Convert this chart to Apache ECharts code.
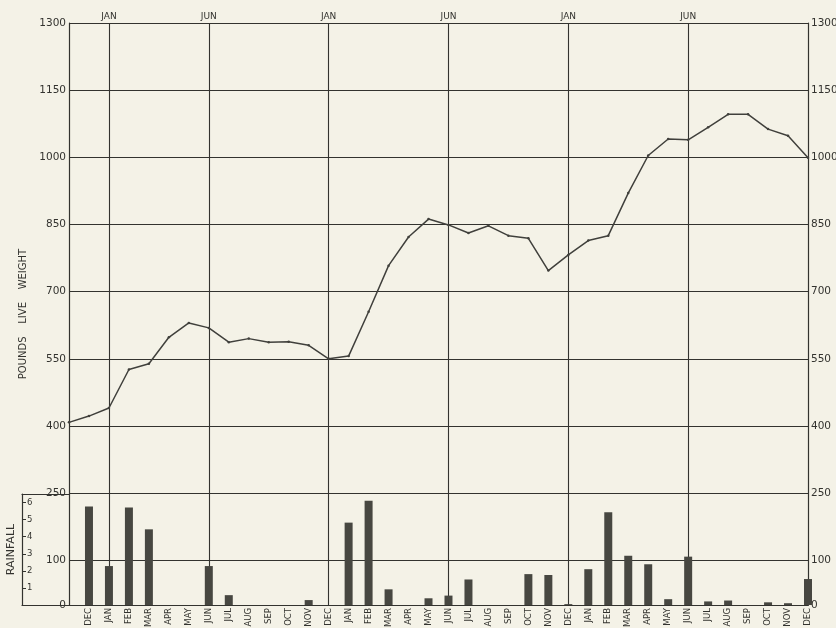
<!DOCTYPE html>
<html>
<head>
<meta charset="utf-8">
<script src="https://cdn.jsdelivr.net/npm/echarts@6/dist/echarts.min.js"></script>
<style>
  html, body { margin: 0; padding: 0; background: #f4f2e7; }
  #chart { width: 836px; height: 628px; }
</style>
</head>
<body>
<div id="chart"></div>
<script>
// month under each point / bar (index 0 is the starting point on the left axis)
const months = ['', 'DEC', 'JAN', 'FEB', 'MAR', 'APR', 'MAY', 'JUN', 'JUL', 'AUG', 'SEP', 'OCT', 'NOV',
  'DEC', 'JAN', 'FEB', 'MAR', 'APR', 'MAY', 'JUN', 'JUL', 'AUG', 'SEP', 'OCT', 'NOV',
  'DEC', 'JAN', 'FEB', 'MAR', 'APR', 'MAY', 'JUN', 'JUL', 'AUG', 'SEP', 'OCT', 'NOV', 'DEC']
// labels along the top edge, with a vertical grid line under each one
const topMonths = ['', '', 'JAN', '', '', '', '', 'JUN', '', '', '', '', '',
  'JAN', '', '', '', '', '', 'JUN', '', '', '', '', '',
  'JAN', '', '', '', '', '', 'JUN', '', '', '', '', '', '']
// pounds live weight
const weight = [408, 422, 440, 526, 539, 598, 630, 619, 587, 595, 587, 588, 580,
  550, 556, 655, 758, 822, 862, 849, 831, 847, 825, 819, 747,
  782, 814, 825, 920, 1004, 1041, 1039, 1067, 1096, 1096, 1063, 1048, 999]
// rainfall bars, read on the same left scale
const rainfall = [null, 220, 87, 218, 169, null, null, 87, 22, null, null, null, 11,
  null, 184, 233, 35, null, 15, 21, 57, null, null, 69, 67, 2,
  80, 207, 110, 91, 13, 108, 8, 10, null, 6, 4, 58]
const yLabels = [0, 100, 250, 400, 550, 700, 850, 1000, 1150, 1300]
const inchLabels = [1, 2, 3, 4, 5, 6]

const ink = '#33332f'
const font = 'DejaVu Sans'

let chart = echarts.init(document.getElementById('chart'))

function weightAxis (pos) {
  return {
    type: 'value',
    gridIndex: 0,
    position: pos,
    min: 0,
    max: 1300,
    interval: 50,
    axisLine: { show: true, lineStyle: { color: ink, width: 1.2 } },
    axisTick: { show: false },
    axisLabel: {
      color: ink,
      fontFamily: font,
      fontSize: 10.5,
      margin: 3,
      formatter: v => (yLabels.includes(v) ? String(v) : '')
    },
    splitLine: {
      show: pos === 'left',
      lineStyle: { color: ['rgba(0,0,0,0)', 'rgba(0,0,0,0)', ink], width: 1.1 }
    }
  }
}

let leftAxis = weightAxis('left')
leftAxis.name = 'POUNDS    LIVE    WEIGHT'
leftAxis.nameLocation = 'middle'
leftAxis.nameGap = 31
leftAxis.nameTextStyle = { color: ink, fontFamily: font, fontSize: 10 }

let option = {
  backgroundColor: '#f4f2e7',
  animation: false,
  grid: [
    { left: 69, right: 28, top: 23, bottom: 23, containLabel: false, outerBoundsMode: 'none' },
    { left: 22, width: 47, top: 494, bottom: 23, containLabel: false, outerBoundsMode: 'none' }
  ],
  xAxis: [
    {
      type: 'category',
      gridIndex: 0,
      position: 'bottom',
      data: months,
      boundaryGap: false,
      axisLine: { show: true, lineStyle: { color: ink, width: 1.2 } },
      axisTick: { show: false },
      axisLabel: {
        interval: 0,
        rotate: 90,
        color: ink,
        fontFamily: font,
        fontSize: 8.5,
        margin: 3
      },
      splitLine: { show: false }
    },
    {
      type: 'category',
      gridIndex: 0,
      position: 'top',
      data: topMonths,
      boundaryGap: false,
      axisLine: { show: true, lineStyle: { color: ink, width: 1.2 } },
      axisTick: { show: false },
      axisLabel: {
        interval: (i) => topMonths[i] !== '',
        color: ink,
        fontFamily: font,
        fontSize: 9,
        margin: 2
      },
      splitLine: {
        show: true,
        interval: (i) => topMonths[i] !== '',
        lineStyle: { color: ink, width: 1.1 }
      }
    },
    {
      type: 'value', gridIndex: 1, position: 'bottom', min: 0, max: 1,
      axisLine: { show: true, onZero: false, lineStyle: { color: ink, width: 1.2 } },
      axisTick: { show: false }, axisLabel: { show: false }, splitLine: { show: false }
    },
    {
      type: 'value', gridIndex: 1, position: 'top', min: 0, max: 1,
      axisLine: { show: true, onZero: false, lineStyle: { color: ink, width: 1.2 } },
      axisTick: { show: false }, axisLabel: { show: false }, splitLine: { show: false }
    }
  ],
  yAxis: [
    leftAxis,
    weightAxis('right'),
    {
      type: 'value',
      gridIndex: 1,
      position: 'left',
      min: 0,
      max: 6.5,
      interval: 1,
      name: 'RAINFALL',
      nameLocation: 'middle',
      nameGap: 5,
      nameTextStyle: { color: ink, fontFamily: font, fontSize: 11 },
      axisLine: { show: true, onZero: false, lineStyle: { color: ink, width: 1.2 } },
      axisTick: { show: true, inside: true, length: 4, lineStyle: { color: ink } },
      axisLabel: {
        inside: true,
        color: ink,
        fontFamily: font,
        fontSize: 8.5,
        margin: 5,
        formatter: v => (inchLabels.includes(v) ? String(v) : '')
      },
      splitLine: { show: false }
    }
  ],
  series: [
    {
      type: 'bar',
      xAxisIndex: 0,
      yAxisIndex: 0,
      data: rainfall,
      barWidth: 8,
      itemStyle: { color: '#474741' }
    },
    {
      type: 'line',
      xAxisIndex: 0,
      yAxisIndex: 0,
      data: weight,
      symbol: 'circle',
      symbolSize: 2.5,
      lineStyle: { color: '#40403c', width: 1.5 },
      itemStyle: { color: '#40403c' }
    }
  ]
}

chart.setOption(option)
</script>
</body>
</html>
